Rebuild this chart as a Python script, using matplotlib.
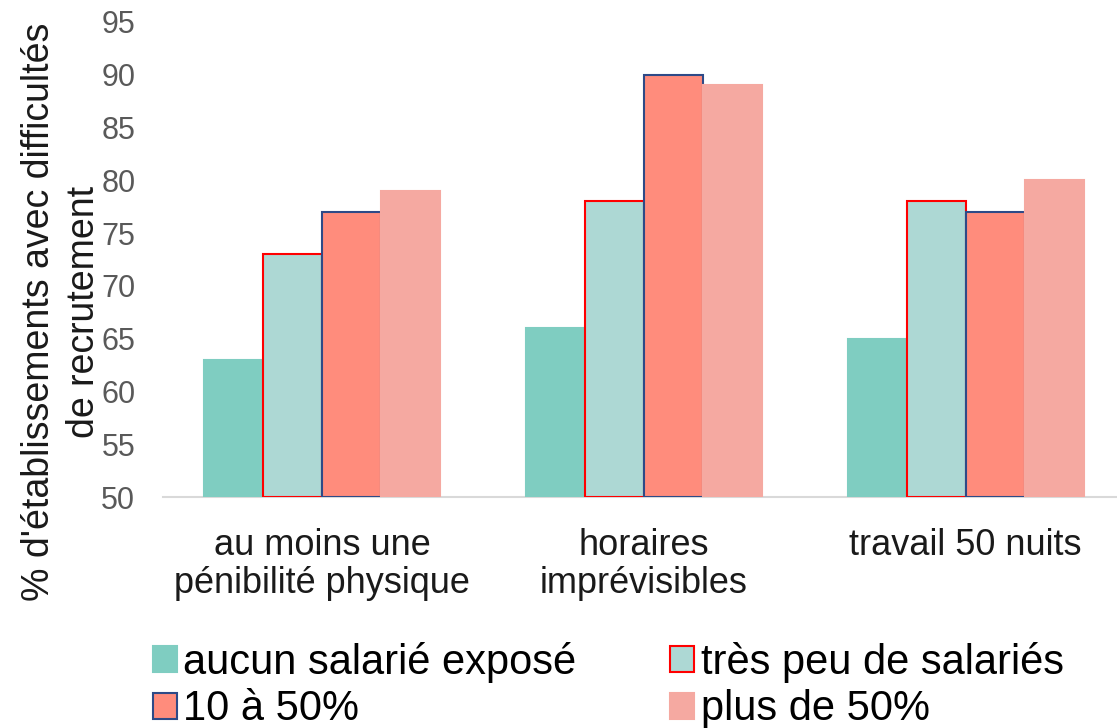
import numpy as np
import matplotlib.pyplot as plt

plt.rcParams['font.family'] = ['Liberation Sans', 'DejaVu Sans']

# donnees
categories = ['au moins une\npénibilité physique', 'horaires\nimprévisibles', 'travail 50 nuits']
series = ['aucun salarié exposé', 'très peu de salariés', '10 à 50%', 'plus de 50%']
aucun = [63, 66, 65]
tres_peu = [73, 78, 78]
dix_cinquante = [77, 90, 77]
plus_cinquante = [79, 89, 80]
yticks = [50, 55, 60, 65, 70, 75, 80, 85, 90, 95]

fills = ['#7FCDC1', '#ADD8D4', '#FF8C7C', '#F5A9A1']
edges = ['#7FCDC1', '#FF0000', '#2E4A87', '#F5A9A1']

fig = plt.figure(figsize=(11.17, 7.28), dpi=100)
ax = fig.add_axes([0.146, 0.317, 0.854, 0.653])

x = np.arange(len(categories))
w = 0.183
valeurs = [aucun, tres_peu, dix_cinquante, plus_cinquante]
barres = []
for k, vals in enumerate(valeurs):
    pos = x + (k - 1.5) * w
    b = ax.bar(pos, np.array(vals) - 50, w, bottom=50, color=fills[k],
               edgecolor=edges[k], linewidth=1.5, label=series[k], zorder=3)
    barres.append(b)

ax.set_ylim(50, 95)
ax.set_xlim(-0.494, 2.47)
ax.set_yticks(yticks)
ax.set_xticks(x)
ax.set_xticklabels(categories, fontsize=26, linespacing=1.12)
ax.tick_params(axis='y', length=0, pad=20, labelsize=22, labelcolor='#595959')
ax.tick_params(axis='x', length=0, pad=22, labelcolor='#1a1a1a')
for s in ['top', 'right', 'left']:
    ax.spines[s].set_visible(False)
ax.spines['bottom'].set_color('#D9D9D9')
ax.spines['bottom'].set_linewidth(1.5)

fig.text(0.055, 0.571, "% d'établissements avec difficultés\nde recrutement",
         rotation=90, ha='center', va='center', multialignment='center',
         fontsize=27, linespacing=1.3, color='#1a1a1a')

# ordre pour lire ligne par ligne
ordre = [0, 2, 1, 3]
fig.legend([barres[i] for i in ordre], [series[i] for i in ordre],
           loc='upper left', bbox_to_anchor=(0.137, 0.118), ncol=2,
           frameon=False, fontsize=30, handlelength=0.58, handleheight=0.58,
           handletextpad=0.15, columnspacing=2.25, labelspacing=0.15,
           borderpad=0, borderaxespad=0)

fig.savefig('out.png', dpi=100)
